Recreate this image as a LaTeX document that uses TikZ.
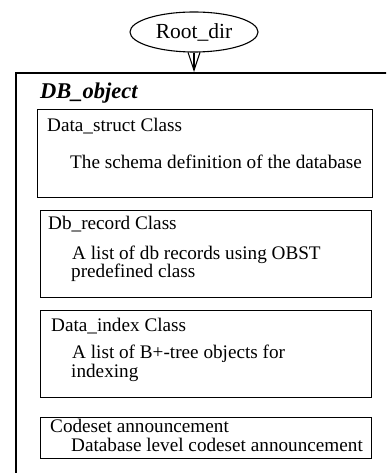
\documentclass[tikz,border=0pt]{standalone}
\usepackage{fontspec}
\setmainfont{Liberation Serif}
\usetikzlibrary{arrows.meta,shapes.geometric}
\tikzset{
  box/.style={draw, line width=1.2pt, anchor=north west, inner sep=0pt},
  txt/.style={anchor=base west, inner sep=0pt, font=\fontsize{19.2}{22}\selectfont},
}
\begin{document}
\begin{tikzpicture}[x=1pt,y=-1pt]
\useasboundingbox (0,0) rectangle (386,473);
\clip (0,0) rectangle (386,473);
% root and outer object
\node (root) at (194,32) [draw, ellipse, line width=1.1pt, minimum width=128, minimum height=40, inner sep=0pt, font=\fontsize{21.5}{24}\selectfont] {Root\_dir};
\draw[line width=2.4pt] (16,490) |- (400,73);
\coordinate (top) at (194,72);
\draw[line width=1.1pt,-{Straight Barb[width=12pt,length=18pt]}] (root.south) to (top);
\node (db) at (40,99) [txt, font=\fontsize{22.5}{25}\selectfont\bfseries\itshape] {DB\_object};

\node (b1) at (37,109) [box, minimum width=335, minimum height=88] {};
\node (b2) at (40,210) [box, minimum width=331, minimum height=87] {};
\node (b3) at (40,310) [box, minimum width=331, minimum height=87] {};
\node (b4) at (40,417) [box, minimum width=331, minimum height=41] {};

\node (t1) at (47,132) [txt] {Data\_struct Class};
\node (d1) at (70,168) [txt] {The schema definition of the database};
\node (t2) at (48,229) [txt] {Db\_record Class};
\node (d2) at (72,259) [txt] {A list of db records using OBST};
\node (e2) at (71,277) [txt] {predefined class};
\node (t3) at (51,331) [txt] {Data\_index Class};
\node (d3) at (72,358) [txt] {A list of B+-tree objects for};
\node (e3) at (71,377) [txt] {indexing};
\node (t4) at (50,432) [txt] {Codeset announcement};
\node (d4) at (71,451) [txt] {Database level codeset announcement};
\end{tikzpicture}
\end{document}
